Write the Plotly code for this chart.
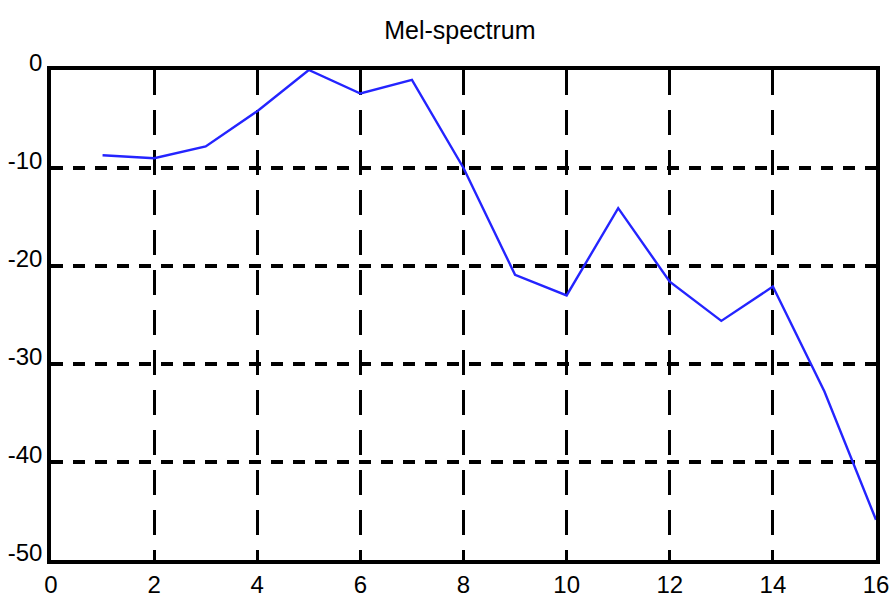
import plotly.graph_objects as go

# Mel filter-bank index and log energy (dB)
mel_index = list(range(1, 17))
mel_energy = [-8.7, -9.0, -7.8, -4.2, 0.0, -2.4, -1.0, -10.0,
              -20.9, -23.0, -14.1, -21.6, -25.6, -22.1, -32.8, -45.9]

x_ticks = [0, 2, 4, 6, 8, 10, 12, 14, 16]
y_ticks = [0, -10, -20, -30, -40, -50]

FONT = "Liberation Sans Narrow, Liberation Sans, Arial, sans-serif"

fig = go.Figure()
fig.add_trace(go.Scatter(
    x=mel_index, y=mel_energy, mode="lines",
    line=dict(color="#2424ff", width=2.4),
    showlegend=False,
))

fig.update_layout(
    width=893, height=600,
    margin=dict(l=51, r=17, t=70, b=40),
    paper_bgcolor="white", plot_bgcolor="white",
    font=dict(family=FONT, size=24, color="black"),
    title=dict(text="Mel-spectrum", x=0.515, xanchor="center",
               y=0.95, yanchor="middle",
               font=dict(family=FONT, size=25, color="black")),
)
fig.update_xaxes(
    range=[0, 16], tickvals=x_ticks, ticktext=[str(v) for v in x_ticks],
    showline=True, linecolor="black", linewidth=3.5, mirror=True,
    showgrid=True, gridcolor="black", gridwidth=3, griddash="25px,15px",
    zeroline=False, ticks="", ticklabelstandoff=0, automargin=False,
)
fig.update_yaxes(
    range=[-50, 0], tickvals=y_ticks, ticktext=[str(v) for v in y_ticks],
    showline=True, linecolor="black", linewidth=3.5, mirror=True,
    showgrid=True, gridcolor="black", gridwidth=3.5, griddash="12px,10px",
    zeroline=False, ticks="", ticklabelstandoff=0, ticklabelshift=-7,
    automargin=False,
)

fig.write_html("out.html")
